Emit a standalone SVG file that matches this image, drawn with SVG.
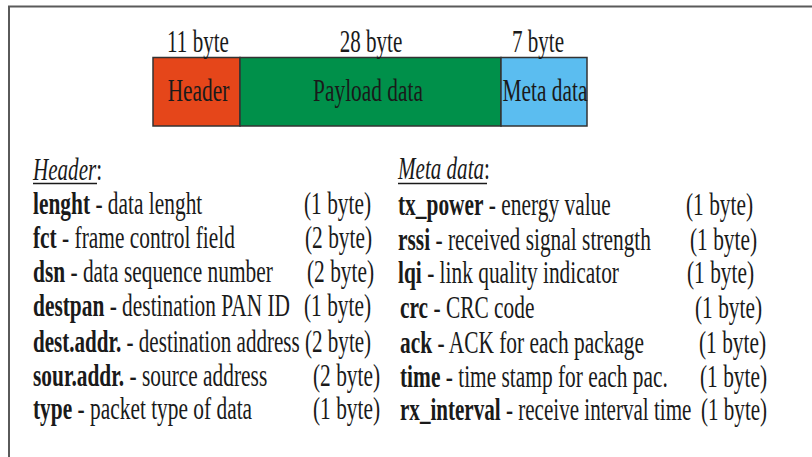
<svg xmlns="http://www.w3.org/2000/svg" width="812" height="457" viewBox="0 0 812 457">
<style>
text{font-family:"Liberation Serif","Times New Roman",serif;font-size:31px;fill:#1a1a1a}
.m{text-anchor:middle}
.b{font-weight:bold}
.i{font-style:italic}
.frame{stroke:#5a5a5a;stroke-width:2;fill:none}
.seg{stroke:#333;stroke-width:1.5}
.ul{stroke:#1a1a1a;stroke-width:1.3}
</style>
<rect width="812" height="457" fill="#fff"/>
<path class="frame" d="M9,457 V6.5 H812"/>
<g id="packet">
<g id="header-seg">
<rect class="seg" x="153" y="57.5" width="87" height="68.5" fill="#E5461A"/>
<text class="m" transform="translate(198.5,101) scale(.69,1)">Header</text>
<text class="m" transform="translate(198,52) scale(.68,1)">11 byte</text>
</g>
<g id="payload-seg">
<rect class="seg" x="240" y="57.5" width="261" height="68.5" fill="#00904A"/>
<text class="m" transform="translate(368,101) scale(.69,1)">Payload data</text>
<text class="m" transform="translate(371,52) scale(.68,1)">28 byte</text>
</g>
<g id="meta-seg">
<rect class="seg" x="501" y="57.5" width="86" height="68.5" fill="#5BBDF0"/>
<text class="m" transform="translate(545,101) scale(.69,1)">Meta data</text>
<text class="m" transform="translate(538,52) scale(.68,1)">7 byte</text>
</g>
</g>
<g id="header-list">
<text transform="translate(33,180) scale(.68,1)"><tspan class="i">Header</tspan>:</text>
<line class="ul" x1="33" y1="183.5" x2="97" y2="183.5"/>
<text transform="translate(33,214) scale(.69,1)"><tspan class="b">lenght</tspan> - data lenght</text>
<text transform="translate(304,214) scale(.69,1)">(1 byte)</text>
<text transform="translate(33,248) scale(.69,1)"><tspan class="b">fct</tspan> - frame control field</text>
<text transform="translate(305,248) scale(.69,1)">(2 byte)</text>
<text transform="translate(33,282) scale(.69,1)"><tspan class="b">dsn</tspan> - data sequence number</text>
<text transform="translate(307,282) scale(.69,1)">(2 byte)</text>
<text transform="translate(33,316) scale(.69,1)"><tspan class="b">destpan</tspan> - destination PAN ID</text>
<text transform="translate(304,316) scale(.69,1)">(1 byte)</text>
<text transform="translate(33,352) scale(.68,1)"><tspan class="b">dest.addr.</tspan> - destination address</text>
<text transform="translate(305,352) scale(.68,1)">(2 byte)</text>
<text transform="translate(33,386) scale(.69,1)"><tspan class="b">sour.addr.</tspan> - source address</text>
<text transform="translate(313,386) scale(.69,1)">(2 byte)</text>
<text transform="translate(33,419) scale(.69,1)"><tspan class="b">type</tspan> - packet type of data</text>
<text transform="translate(313,419) scale(.69,1)">(1 byte)</text>
</g>
<g id="meta-list">
<text transform="translate(398,179) scale(.68,1)"><tspan class="i">Meta data</tspan>:</text>
<line class="ul" x1="398" y1="183.5" x2="487" y2="183.5"/>
<text transform="translate(398,215) scale(.69,1)"><tspan class="b">tx_power</tspan> - energy value</text>
<text transform="translate(686,215) scale(.69,1)">(1 byte)</text>
<text transform="translate(398,250) scale(.69,1)"><tspan class="b">rssi</tspan> - received signal strength</text>
<text transform="translate(690,250) scale(.69,1)">(1 byte)</text>
<text transform="translate(398,283) scale(.69,1)"><tspan class="b">lqi</tspan> - link quality indicator</text>
<text transform="translate(687,283) scale(.69,1)">(1 byte)</text>
<text transform="translate(400,318) scale(.69,1)"><tspan class="b">crc</tspan> - CRC code</text>
<text transform="translate(695,318) scale(.69,1)">(1 byte)</text>
<text transform="translate(400,353) scale(.69,1)"><tspan class="b">ack</tspan> - ACK for each package</text>
<text transform="translate(699,353) scale(.69,1)">(1 byte)</text>
<text transform="translate(400,387) scale(.69,1)"><tspan class="b">time</tspan> - time stamp for each pac.</text>
<text transform="translate(700,387) scale(.69,1)">(1 byte)</text>
<text transform="translate(400,420) scale(.68,1)"><tspan class="b">rx_interval</tspan> - receive interval time</text>
<text transform="translate(701,420) scale(.68,1)">(1 byte)</text>
</g>
</svg>
